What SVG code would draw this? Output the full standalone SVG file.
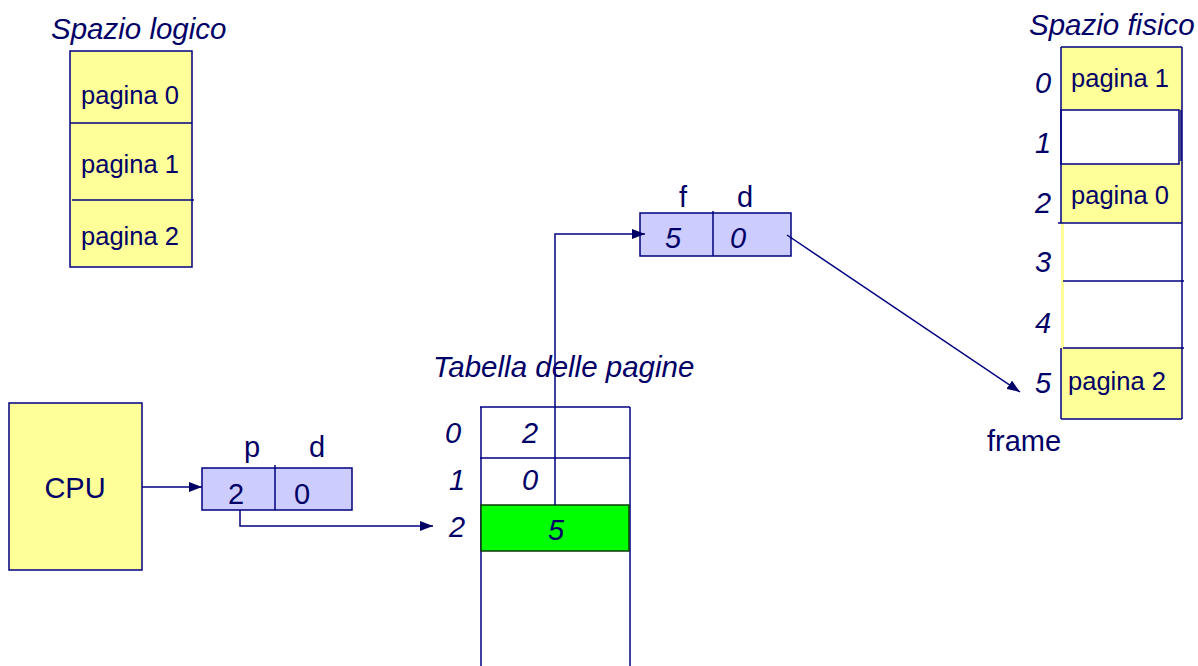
<svg xmlns="http://www.w3.org/2000/svg" width="1198" height="666" viewBox="0 0 1198 666">
<defs>
<marker id="ah" viewBox="0 0 13 10" refX="13" refY="5" markerWidth="13" markerHeight="10" markerUnits="userSpaceOnUse" orient="auto">
<path d="M0,0 L13,5 L0,10 z" fill="#000066"/>
</marker>
<style>
.t{font-family:"Liberation Sans",Arial,sans-serif;fill:#000066}
.i{font-style:italic}
.s28{font-size:29px}
.st{font-size:29.5px}
.s25{font-size:25.5px}
.box{stroke:#000080;stroke-width:1.5}
.yel{fill:#FFFF99}
.blu{fill:#CCCCFF}
.ln{stroke:#000080;stroke-width:1.5;fill:none}
.c{text-anchor:middle}
</style>
</defs>
<rect width="1198" height="666" fill="#ffffff"/>

<g id="spazio-logico">
<text class="t i st" x="51" y="39">Spazio logico</text>
<rect class="box yel" x="70" y="51" width="122" height="216"/>
<line class="ln" x1="70" y1="123" x2="192" y2="123"/>
<line class="ln" x1="72" y1="200" x2="194" y2="200"/>
<text class="t s25 c" x="130" y="104">pagina 0</text>
<text class="t s25 c" x="130" y="173">pagina 1</text>
<text class="t s25 c" x="130" y="245">pagina 2</text>
</g>

<g id="spazio-fisico">
<text class="t i st" x="1029" y="35">Spazio fisico</text>
<rect class="yel" x="1061" y="47" width="121" height="372"/>
<rect fill="#ffffff" x="1064" y="223" width="118" height="125"/>
<rect fill="#ffffff" x="1061" y="110" width="118" height="54"/>
<line class="ln" x1="1061" y1="47" x2="1061" y2="223"/>
<line class="ln" x1="1061" y1="348" x2="1061" y2="419"/>
<line class="ln" x1="1182" y1="47" x2="1182" y2="419"/>
<line class="ln" x1="1061" y1="47" x2="1182" y2="47"/>
<line class="ln" x1="1061" y1="419" x2="1182" y2="419"/>
<rect class="ln" x="1061" y="110" width="118" height="54"/>
<line class="ln" x1="1181" y1="110" x2="1181" y2="161"/>
<line class="ln" x1="1058" y1="223" x2="1182" y2="223"/>
<line class="ln" x1="1063" y1="281" x2="1184" y2="281"/>
<line class="ln" x1="1063" y1="348" x2="1184" y2="348"/>
<text class="t s25 c" x="1120" y="87">pagina 1</text>
<text class="t s25 c" x="1120" y="204">pagina 0</text>
<text class="t s25 c" x="1117" y="390">pagina 2</text>
<text class="t i s28 c" x="1043" y="93">0</text>
<text class="t i s28 c" x="1043" y="153">1</text>
<text class="t i s28 c" x="1043" y="213">2</text>
<text class="t i s28 c" x="1043" y="272">3</text>
<text class="t i s28 c" x="1043" y="333">4</text>
<text class="t i s28 c" x="1043" y="393">5</text>
<text class="t s28" x="987" y="451">frame</text>
</g>

<g id="tabella">
<text class="t i st" x="433" y="377">Tabella delle pagine</text>
<rect fill="#ffffff" x="480" y="407" width="150" height="270"/>
<line class="ln" x1="480" y1="407" x2="630" y2="407"/>
<line class="ln" x1="481" y1="407" x2="481" y2="666"/>
<line class="ln" x1="630" y1="407" x2="630" y2="666"/>
<line class="ln" x1="480" y1="458" x2="630" y2="458"/>
<rect x="481" y="505" width="148" height="46" fill="#00FF00" stroke="#0a3a0a" stroke-width="1.5"/>
<text class="t i s28 c" x="453" y="443">0</text>
<text class="t i s28 c" x="457" y="490">1</text>
<text class="t i s28 c" x="457" y="537">2</text>
<text class="t i s28 c" x="530" y="443">2</text>
<text class="t i s28 c" x="530" y="490">0</text>
<text class="t i s28 c" x="556" y="540">5</text>
</g>

<g id="cpu">
<rect class="box yel" x="9" y="403" width="133" height="167"/>
<text class="t s28 c" x="75" y="498">CPU</text>
</g>

<g id="indirizzo-logico">
<rect class="box blu" x="202" y="468" width="150" height="42"/>
<line class="ln" x1="275" y1="465" x2="275" y2="510"/>
<text class="t s28 c" x="252" y="457">p</text>
<text class="t s28 c" x="317" y="457">d</text>
<text class="t s28 c" x="236" y="504">2</text>
<text class="t s28 c" x="302" y="504">0</text>
</g>

<g id="indirizzo-fisico">
<rect class="box blu" x="640" y="213" width="151" height="43"/>
<line class="ln" x1="713" y1="211" x2="713" y2="256"/>
<text class="t s28 c" x="683" y="207">f</text>
<text class="t s28 c" x="745" y="207">d</text>
<text class="t i s28 c" x="673" y="248">5</text>
<text class="t i s28 c" x="738" y="248">0</text>
</g>

<g id="connettori">
<line class="ln" x1="142" y1="487" x2="202" y2="487" marker-end="url(#ah)"/>
<polyline class="ln" points="240,510 240,526 433,526" marker-end="url(#ah)"/>
<polyline class="ln" points="555,505 555,234 645,234" marker-end="url(#ah)"/>
<line class="ln" x1="787" y1="235" x2="1020" y2="392" marker-end="url(#ah)"/>
</g>
</svg>
